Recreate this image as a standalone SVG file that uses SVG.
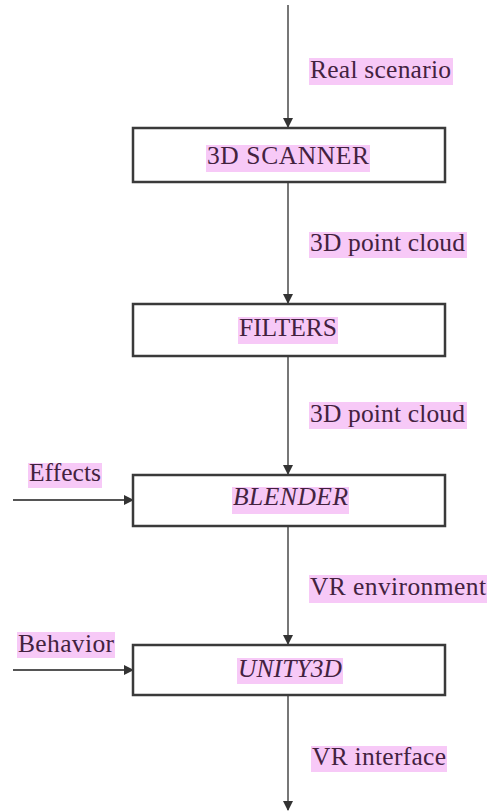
<svg xmlns="http://www.w3.org/2000/svg" width="487" height="812" viewBox="0 0 487 812">
<style>
.box{fill:#fff;stroke:#3a3a3a;stroke-width:2.5}
.hl{fill:#f7c9f7}
.t{font-family:"Liberation Serif","Times New Roman",serif;font-size:25.5px;fill:#43223f}
.i{font-style:italic}
.ln{stroke:#555;stroke-width:1.6;fill:none}
</style>
<defs>
<marker id="ah" markerWidth="10" markerHeight="10" refX="9" refY="5" orient="auto" markerUnits="userSpaceOnUse">
<path d="M0,0 L10,5 L0,10 Z" fill="#333"/>
</marker>
</defs>
<rect width="487" height="812" fill="#fff"/>
<g id="connectors">
<line class="ln" x1="288" y1="5" x2="288" y2="127" marker-end="url(#ah)"/>
<line class="ln" x1="288" y1="183" x2="288" y2="303" marker-end="url(#ah)"/>
<line class="ln" x1="288" y1="357" x2="288" y2="474" marker-end="url(#ah)"/>
<line class="ln" x1="288" y1="527" x2="288" y2="644" marker-end="url(#ah)"/>
<line class="ln" x1="288" y1="696" x2="288" y2="810" marker-end="url(#ah)"/>
<line class="ln" x1="13" y1="500" x2="133" y2="500" marker-end="url(#ah)" style="stroke-width:2"/>
<line class="ln" x1="13" y1="670" x2="133" y2="670" marker-end="url(#ah)" style="stroke-width:2"/>
<rect class="hl" x="309" y="58" width="144" height="27"/>
<text class="t" x="310" y="78" textLength="141" lengthAdjust="spacing">Real scenario</text>
<rect class="hl" x="309" y="232" width="158" height="26"/>
<text class="t" x="310" y="251" textLength="155" lengthAdjust="spacing">3D point cloud</text>
<rect class="hl" x="309" y="402" width="158" height="27"/>
<text class="t" x="310" y="422" textLength="155" lengthAdjust="spacing">3D point cloud</text>
<rect class="hl" x="28" y="463" width="74" height="25"/>
<text class="t" x="29" y="481" textLength="72" lengthAdjust="spacing">Effects</text>
<rect class="hl" x="309" y="575" width="178" height="28"/>
<text class="t" x="310" y="595" textLength="176" lengthAdjust="spacing">VR environment</text>
<rect class="hl" x="17" y="632" width="98" height="26"/>
<text class="t" x="18" y="652" textLength="96" lengthAdjust="spacing">Behavior</text>
<rect class="hl" x="311" y="746" width="136" height="26"/>
<text class="t" x="312" y="765" textLength="134" lengthAdjust="spacing">VR interface</text>
</g>
<g id="scanner">
<rect class="box" x="133" y="128" width="312" height="54"/>
<rect class="hl" x="206" y="145" width="164" height="27"/>
<text class="t" x="207" y="164" textLength="162" lengthAdjust="spacing">3D SCANNER</text>
</g>
<g id="filters">
<rect class="box" x="133" y="304" width="312" height="52"/>
<rect class="hl" x="238" y="317" width="100" height="27"/>
<text class="t" x="239" y="336" textLength="98" lengthAdjust="spacing">FILTERS</text>
</g>
<g id="blender">
<rect class="box" x="133" y="475" width="312" height="51"/>
<rect class="hl" x="232" y="487" width="117" height="27"/>
<text class="t i" x="233" y="505" textLength="115" lengthAdjust="spacing">BLENDER</text>
</g>
<g id="unity">
<rect class="box" x="133" y="645" width="312" height="50"/>
<rect class="hl" x="237" y="658" width="106" height="26"/>
<text class="t i" x="238" y="677" textLength="104" lengthAdjust="spacing">UNITY3D</text>
</g>
</svg>
